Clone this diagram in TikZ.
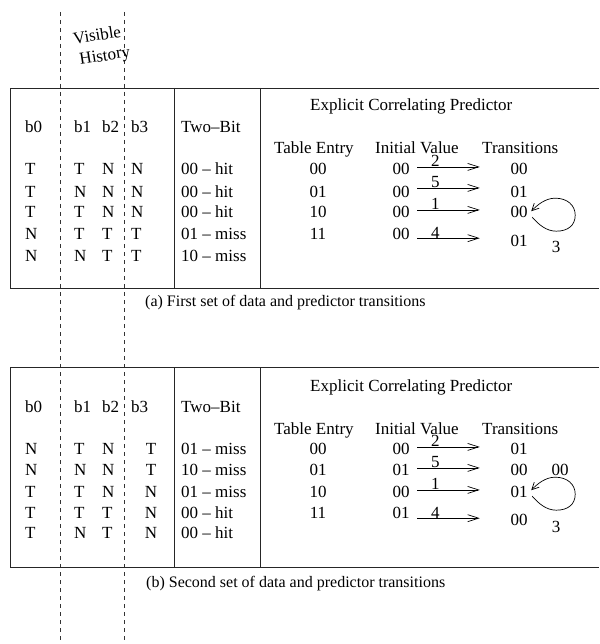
\documentclass[tikz,border=0pt]{standalone}
\usepackage{fontspec}
\setmainfont{Liberation Serif}
\usetikzlibrary{arrows.meta,calc}
\begin{document}
\begin{tikzpicture}[x=1pt,y=-1pt,
  every node/.style={inner sep=0pt, font=\fontsize{17}{20}\selectfont},
  cell/.style={anchor=base west},
  mid/.style={anchor=base},
  frame/.style={line width=0.8pt, draw=black!85},
  hist/.style={line width=0.7pt, draw=black!80, dash pattern=on 4pt off 4pt},
  trans/.style={line width=0.7pt, -{Straight Barb[length=11pt,width=7pt]}},
  selfarr/.style={line width=0.7pt, -{Straight Barb[length=7pt,width=7pt]}},
  caption/.style={anchor=base west, font=\fontsize{16}{19}\selectfont},
]
\useasboundingbox (0,0) rectangle (599,644);

% ---- history guide lines ----
\draw[hist] (60,12) -- (60,644);
\draw[hist] (124,12) -- (124,644);
\node[rotate=9] (vis) at (97,35) {Visible};
\node[rotate=9] (hst) at (105,57) {History};

% ---- self loop macro: loops back into a transitions entry ----
\newcommand{\selfloop}[1]{%
  \draw[selfarr] ([shift={(4.5,4.75)}]#1.east)
    .. controls ([shift={(10.5,11.75)}]#1.east) and ([shift={(18.5,18.75)}]#1.east) .. ([shift={(28.5,18.75)}]#1.east)
    .. controls ([shift={(40.5,18.75)}]#1.east) and ([shift={(47.5,12.75)}]#1.east) .. ([shift={(47.5,2.75)}]#1.east)
    .. controls ([shift={(47.5,-7.25)}]#1.east) and ([shift={(39.5,-14.25)}]#1.east) .. ([shift={(27.5,-14.25)}]#1.east)
    .. controls ([shift={(17.5,-14.25)}]#1.east) and ([shift={(9.5,-7.25)}]#1.east) .. ([shift={(3.5,-1.25)}]#1.east);}

% =========== panel (a) ===========
\draw[frame] (599,88) -- (10,88) -- (10,288) -- (599,288);
\draw[frame] (174,88) -- (174,288);
\draw[frame] (260,88) -- (260,288);

\node[cell] (ab0) at (25,133) {b0};
\node[cell] (ab1) at (74,133) {b1};
\node[cell] (ab2) at (102,133) {b2};
\node[cell] (ab3) at (131,133) {b3};
\node[cell] (atb) at (181,133) {Two--Bit};

\foreach \r/\y/\p/\q/\s/\t/\u in {
  1/175/T/T/N/N/{00 -- hit},
  2/197/T/N/N/N/{00 -- hit},
  3/217/T/T/N/N/{00 -- hit},
  4/239/N/T/T/T/{01 -- miss},
  5/261/N/N/T/T/{10 -- miss}}{
  \node[cell] (a0r\r) at (25,\y) {\p};
  \node[cell] (a1r\r) at (74,\y) {\q};
  \node[cell] (a2r\r) at (102,\y) {\s};
  \node[cell] (a3r\r) at (131,\y) {\t};
  \node[cell] (atr\r) at (181,\y) {\u};
}

\node[cell] (aecp) at (310,111) {Explicit Correlating Predictor};
\node[cell] (ahte) at (274,154) {Table Entry};
\node[cell] (ahiv) at (375,154) {Initial Value};
\node[cell] (ahtr) at (482,154) {Transitions};

\foreach \r/\y/\e/\i/\t/\ty in {
  1/175/00/00/00/175,
  2/197/01/00/01/197,
  3/218/10/00/00/218,
  4/239/11/00/01/246}{
  \node[mid] (ate\r) at (318,\y) {\e};
  \node[mid] (aiv\r) at (401,\y) {\i};
  \node[mid] (atn\r) at (519,\ty) {\t};
}

\foreach \r/\dy/\lab in {1/-2.5/2, 2/-3.5/5, 3/-2.5/1, 4/4.75/4}{
  \coordinate (as\r) at ([shift={(7.5,\dy)}]aiv\r.east);
  \draw[trans] (as\r) -- ($(as\r -| atn\r.west)+(-30.5,0)$)
    node[pos=0.29, anchor=base] (al\r) {\lab};
}
\selfloop{atn3}
\node[mid] (aloop) at (556,252) {3};

\node[caption] (capa) at (145,306) {(a) First set of data and predictor transitions};

% =========== panel (b) ===========
\draw[frame] (599,367) -- (10,367) -- (10,567) -- (599,567);
\draw[frame] (174,367) -- (174,567);
\draw[frame] (260,367) -- (260,567);

\node[cell] (bb0) at (25,412) {b0};
\node[cell] (bb1) at (74,412) {b1};
\node[cell] (bb2) at (102,412) {b2};
\node[cell] (bb3) at (131,412) {b3};
\node[cell] (btb) at (181,412) {Two--Bit};

\foreach \r/\y/\p/\q/\s/\t/\u in {
  1/454/N/T/N/T/{01 -- miss},
  2/475/N/N/N/T/{10 -- miss},
  3/497/T/T/N/N/{01 -- miss},
  4/518/T/T/T/N/{00 -- hit},
  5/538/T/N/T/N/{00 -- hit}}{
  \node[cell] (b0r\r) at (25,\y) {\p};
  \node[cell] (b1r\r) at (74,\y) {\q};
  \node[cell] (b2r\r) at (102,\y) {\s};
  \node[mid]  (b3r\r) at (151,\y) {\t};
  \node[cell] (btr\r) at (181,\y) {\u};
}

\node[cell] (becp) at (310,391) {Explicit Correlating Predictor};
\node[cell] (bhte) at (274,434) {Table Entry};
\node[cell] (bhiv) at (375,434) {Initial Value};
\node[cell] (bhtr) at (482,434) {Transitions};

\foreach \r/\y/\e/\i/\t/\ty in {
  1/454/00/00/01/454,
  2/475/01/01/00/475,
  3/497/10/00/01/497,
  4/518/11/01/00/525}{
  \node[mid] (bte\r) at (318,\y) {\e};
  \node[mid] (biv\r) at (401,\y) {\i};
  \node[mid] (btn\r) at (519,\ty) {\t};
}
\node[mid] (bext) at (560,475) {00};

\foreach \r/\dy/\lab in {1/-1.5/2, 2/-1.5/5, 3/-1.5/1, 4/5.75/4}{
  \coordinate (bs\r) at ([shift={(7.5,\dy)}]biv\r.east);
  \draw[trans] (bs\r) -- ($(bs\r -| btn\r.west)+(-30.5,0)$)
    node[pos=0.29, anchor=base] (bl\r) {\lab};
}
\selfloop{btn3}
\node[mid] (bloop) at (556,532) {3};

\node[caption] (capb) at (146,587) {(b) Second set of data and predictor transitions};
\end{tikzpicture}
\end{document}
